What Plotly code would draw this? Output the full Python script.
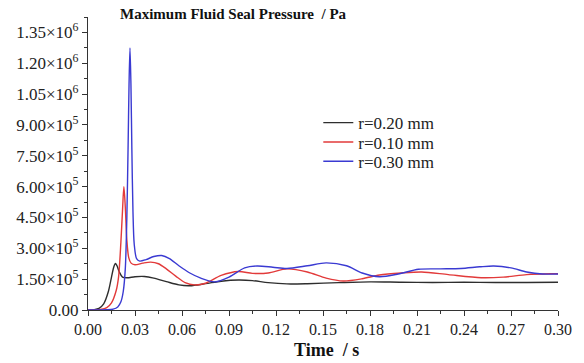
import plotly.graph_objects as go

# r = 0.20 mm (black)
t_black = [0, 0.004, 0.007, 0.010, 0.013, 0.015, 0.0165, 0.0175, 0.0185, 0.020, 0.022, 0.025, 0.030, 0.036,
           0.042, 0.050, 0.058, 0.065, 0.075, 0.085, 0.096, 0.105, 0.115, 0.127, 0.140, 0.160, 0.180,
           0.200, 0.220, 0.240, 0.260, 0.280, 0.300]
p_black = [0, 2, 8, 30, 90, 160, 210, 227, 215, 185, 160, 157, 162, 163,
           155, 138, 122, 118, 128, 140, 146, 143, 133, 127, 128, 133, 137,
           135, 134, 135, 134, 134, 135]

# r = 0.10 mm (red)
t_red = [0, 0.008, 0.012, 0.015, 0.018, 0.0195, 0.021, 0.022, 0.0229, 0.0238, 0.0248, 0.026, 0.0275,
         0.030, 0.035, 0.040, 0.045, 0.050, 0.056, 0.062, 0.068, 0.075, 0.085, 0.096, 0.105, 0.115,
         0.127, 0.140, 0.152, 0.163, 0.175, 0.186, 0.200, 0.213, 0.230, 0.251, 0.265, 0.280, 0.295, 0.300]
p_red = [0, 3, 12, 35, 95, 160, 330, 480, 600, 500, 340, 255, 228,
         220, 228, 233, 225, 200, 165, 133, 122, 130, 168, 187, 178, 180,
         200, 185, 155, 141, 152, 170, 180, 185, 172, 157, 160, 172, 176, 176]

# r = 0.30 mm (blue)
t_blue = [0, 0.012, 0.016, 0.019, 0.021, 0.0225, 0.0238, 0.0248, 0.0256, 0.0262, 0.0268, 0.0274, 0.0280,
          0.0287, 0.0295, 0.031, 0.033, 0.037, 0.042, 0.047, 0.052, 0.058, 0.065, 0.072, 0.081, 0.090,
          0.100, 0.108, 0.118, 0.127, 0.140, 0.152, 0.165, 0.175, 0.186, 0.198, 0.211, 0.225, 0.238,
          0.250, 0.259, 0.270, 0.280, 0.290, 0.300]
p_blue = [0, 1, 4, 15, 40, 90, 200, 450, 800, 1100, 1275, 1100, 780,
          480, 320, 250, 238, 245, 260, 265, 250, 215, 180, 155, 137, 160,
          205, 214, 208, 202, 215, 229, 215, 180, 162, 175, 198, 200, 202,
          210, 214, 205, 185, 175, 175]

series_names = ["r=0.20 mm", "r=0.10 mm", "r=0.30 mm"]
series_colors = ["#2e2e2e", "#e23a3a", "#3a3ad2"]
legend_ids = ["legend", "legend2", "legend3"]

y_tickvals = [0, 150000, 300000, 450000, 600000, 750000, 900000, 1050000, 1200000, 1350000]
y_ticktext = ["0.00", "1.50×10<sup>5</sup>", "3.00×10<sup>5</sup>", "4.50×10<sup>5</sup>",
              "6.00×10<sup>5</sup>", "7.50×10<sup>5</sup>", "9.00×10<sup>5</sup>",
              "1.05×10<sup>6</sup>", "1.20×10<sup>6</sup>", "1.35×10<sup>6</sup>"]
x_tickvals = [0, 0.03, 0.06, 0.09, 0.12, 0.15, 0.18, 0.21, 0.24, 0.27, 0.30]
x_ticktext = ["0.00", "0.03", "0.06", "0.09", "0.12", "0.15", "0.18", "0.21", "0.24", "0.27", "0.30"]

fig = go.Figure()
for t, p, name, col, lg in zip([t_black, t_red, t_blue], [p_black, p_red, p_blue],
                               series_names, series_colors, legend_ids):
    fig.add_trace(go.Scatter(x=t, y=[v * 1000 for v in p], mode="lines", name=name, legend=lg,
                             line=dict(color=col, width=1.4, shape="spline", smoothing=0.8)))

font_family = "Liberation Serif, Times New Roman, serif"
axis_color = "#333333"


def legend_at(ypaper):
    return dict(x=0.49, y=ypaper, xanchor="left", yanchor="middle",
                font=dict(family=font_family, size=17, color="#222222"),
                bgcolor="rgba(0,0,0,0)", itemwidth=30)


fig.update_layout(
    width=584, height=363,
    margin=dict(l=88, r=19, t=17, b=53),
    paper_bgcolor="white", plot_bgcolor="white",
    font=dict(family=font_family, size=16, color="#222222"),
    showlegend=True,
    legend=legend_at(0.638),
    legend2=legend_at(0.572),
    legend3=legend_at(0.506),
    xaxis=dict(range=[0, 0.30], tickmode="array", tickvals=x_tickvals, ticktext=x_ticktext,
               showgrid=False, zeroline=False, showline=True, linecolor=axis_color, linewidth=1.3,
               ticks="outside", ticklen=5, tickwidth=1.3, tickcolor=axis_color,
               minor=dict(tickmode="linear", tick0=0, dtick=0.015, ticks="outside", ticklen=3,
                          tickwidth=1.2, tickcolor=axis_color, showgrid=False),
               tickfont=dict(size=16)),
    yaxis=dict(range=[0, 1425000], tickmode="array", tickvals=y_tickvals, ticktext=y_ticktext,
               showgrid=False, zeroline=False, showline=True, linecolor=axis_color, linewidth=1.3,
               ticks="outside", ticklen=5, tickwidth=1.3, tickcolor=axis_color,
               minor=dict(tickmode="linear", tick0=0, dtick=75000, ticks="outside", ticklen=3,
                          tickwidth=1.2, tickcolor=axis_color, showgrid=False),
               tickfont=dict(size=17)),
    annotations=[
        dict(text="<b>Maximum Fluid Seal Pressure &nbsp;/ Pa</b>", xref="paper", yref="paper",
             x=0.063, y=1.01, xanchor="left", yanchor="middle", showarrow=False,
             font=dict(family=font_family, size=15, color="#111111")),
        dict(text="<b>Time &nbsp;/ s</b>", xref="paper", yref="paper",
             x=0.508, y=-0.137, xanchor="center", yanchor="middle", showarrow=False,
             font=dict(family=font_family, size=18, color="#111111")),
    ],
)

fig.write_html("out.html")
